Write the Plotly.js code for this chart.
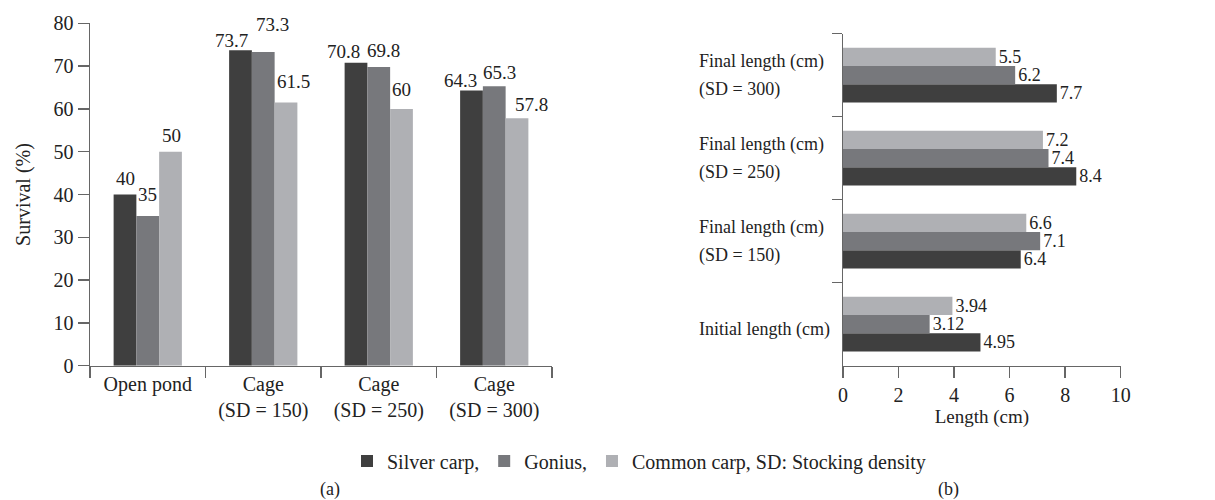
<!DOCTYPE html>
<html>
<head>
<meta charset="utf-8">
<script src="https://cdn.plot.ly/plotly-3.0.1.min.js"></script>
<style>html,body{margin:0;padding:0;background:#fff;}#chart{width:1215px;height:500px;}</style>
</head>
<body>
<div id="chart"></div>
<script>
// ---- Data ----
const seriesNames = ["Silver carp,", "Gonius,", "Common carp, SD: Stocking density"];
const seriesColors = ["#3f3f3f", "#77787c", "#afb0b4"];

// (a) Survival (%)
const survivalCategories = ["Open pond", "Cage<br>(SD = 150)", "Cage<br>(SD = 250)", "Cage<br>(SD = 300)"];
const survivalSilver = [40, 73.7, 70.8, 64.3];
const survivalGonius = [35, 73.3, 69.8, 65.3];
const survivalCommon = [50, 61.5, 60, 57.8];

// (b) Length (cm)
const lengthCategories = ["Initial length (cm)", "Final length (cm)<br>(SD = 150)", "Final length (cm)<br>(SD = 250)", "Final length (cm)<br>(SD = 300)"];
const lengthSilver = [4.95, 6.4, 8.4, 7.7];
const lengthGonius = [3.12, 7.1, 7.4, 6.2];
const lengthCommon = [3.94, 6.6, 7.2, 5.5];

// ---- Style ----
const FONT = "'Liberation Serif', 'Times New Roman', serif";
const TXT = "#222";
const AX = "#666";
// per-label pixel nudges for panel (a) value labels [series][category] -> [dx, dy]
const labelNudgeA = [
  [[0, 8], [-9, 2], [-13, 4], [-11, 2]],
  [[0, 14], [9, 20], [5, 8.5], [5, 6]],
  [[1, 8.5], [7, 13.5], [0, 12], [14, 6.5]]
];

const survivalSeries = [survivalSilver, survivalGonius, survivalCommon];
const lengthSeries = [lengthSilver, lengthGonius, lengthCommon];

const wA = 0.197, wB = 0.22;
const traces = [];
const annotations = [];

survivalSeries.forEach((vals, i) => {
  traces.push({
    type: "bar", x: survivalCategories, y: vals, name: seriesNames[i],
    xaxis: "x", yaxis: "y",
    marker: {color: seriesColors[i], line: {width: 0}},
    width: wA, offset: (i - 1.5) * wA,
    showlegend: true, hoverinfo: "skip"
  });
  vals.forEach((v, k) => {
    const nd = labelNudgeA[i][k];
    annotations.push({
      xref: "x", yref: "y", x: k + (i - 1) * wA, y: v, text: String(v),
      showarrow: false, xanchor: "center", yanchor: "bottom",
      xshift: nd[0], yshift: nd[1] - 5,
      font: {family: FONT, size: 19, color: TXT}
    });
  });
});

lengthSeries.forEach((vals, i) => {
  traces.push({
    type: "bar", orientation: "h", y: lengthCategories, x: vals, name: seriesNames[i],
    xaxis: "x2", yaxis: "y2",
    marker: {color: seriesColors[i], line: {width: 0}},
    width: wB, offset: (i - 1.5) * wB,
    text: vals.map(String), textposition: "outside", constraintext: "none",
    cliponaxis: false,
    textfont: {family: FONT, size: 18, color: TXT},
    showlegend: false, hoverinfo: "skip"
  });
});

// left-aligned category labels for panel (b)
lengthCategories.forEach(c => {
  const lines = c.split("<br>");
  const n = lines.length;
  lines.forEach((ln, j) => {
    annotations.push({
      xref: "paper", yref: "y2", x: 697 / 1215, y: c, xanchor: "left", yanchor: "middle",
      yshift: n === 1 ? -5 : (j === 0 ? 14 : -14),
      align: "left", text: ln, showarrow: false, font: {family: FONT, size: 18, color: TXT}
    });
  });
});

annotations.push({xref: "paper", yref: "paper", x: 330 / 1215, y: 0.022, text: "(a)", showarrow: false,
  xanchor: "center", yanchor: "middle", font: {family: FONT, size: 18, color: TXT}});
annotations.push({xref: "paper", yref: "paper", x: 948 / 1215, y: 0.022, text: "(b)", showarrow: false,
  xanchor: "center", yanchor: "middle", font: {family: FONT, size: 18, color: TXT}});

const layout = {
  width: 1215, height: 500,
  margin: {l: 0, r: 0, t: 0, b: 0},
  paper_bgcolor: "#fff", plot_bgcolor: "#fff",
  font: {family: FONT, size: 20, color: TXT},
  barmode: "group",
  showlegend: true,
  legend: {orientation: "h", x: 639 / 1215, xanchor: "center", y: 0.078, yanchor: "middle",
    font: {family: FONT, size: 20, color: TXT}, traceorder: "normal", itemwidth: 30},
  xaxis: {
    domain: [90 / 1215, 552 / 1215], anchor: "y", type: "category",
    showline: true, linecolor: AX, linewidth: 1.5, showgrid: false, zeroline: false,
    ticks: "outside", tickson: "boundaries", ticklen: 11, tickcolor: AX, tickwidth: 1.5,
    tickfont: {family: FONT, size: 20, color: TXT}, automargin: false
  },
  yaxis: {
    domain: [1 - 365.7 / 500, 1 - 23.3 / 500], anchor: "x", range: [0, 80], dtick: 10,
    showline: true, linecolor: AX, linewidth: 1.5, showgrid: false, zeroline: false,
    ticks: "outside", ticklen: 11, tickcolor: AX, tickwidth: 1.5,
    tickfont: {family: FONT, size: 20, color: TXT}, automargin: false,
    title: {text: "Survival (%)", font: {family: FONT, size: 20, color: TXT}, standoff: 17}
  },
  xaxis2: {
    domain: [843 / 1215, 1120.7 / 1215], anchor: "y2", range: [0, 10], dtick: 2,
    showline: true, linecolor: AX, linewidth: 1.5, showgrid: false, zeroline: false,
    ticks: "outside", ticklen: 11, tickcolor: AX, tickwidth: 1.5,
    tickfont: {family: FONT, size: 20, color: TXT}, automargin: false,
    title: {text: "Length (cm)", font: {family: FONT, size: 19, color: TXT}, standoff: 4}
  },
  yaxis2: {
    domain: [1 - 365.7 / 500, 1 - 33.7 / 500], anchor: "x2", type: "category",
    showline: true, linecolor: AX, linewidth: 1.5, showgrid: false, zeroline: false,
    ticks: "outside", tickson: "boundaries", ticklen: 10, tickcolor: AX, tickwidth: 1.5,
    showticklabels: false, automargin: false
  },
  annotations: annotations
};

Plotly.newPlot("chart", traces, layout, {staticPlot: true, displayModeBar: false});
</script>
</body>
</html>
